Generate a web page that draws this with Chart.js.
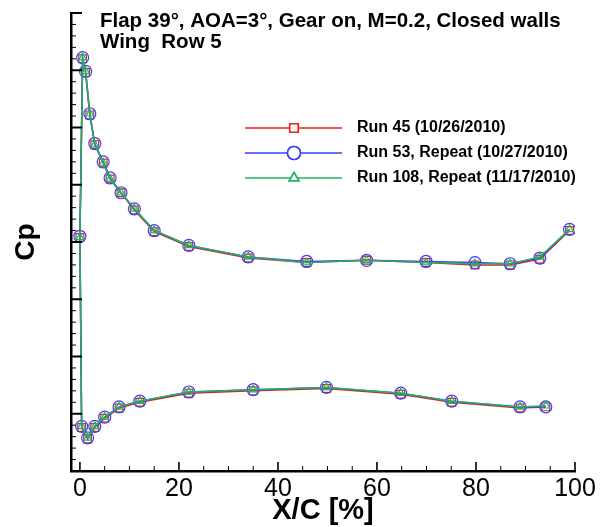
<!DOCTYPE html>
<html>
<head>
<meta charset="utf-8">
<script src="https://cdn.jsdelivr.net/npm/chart.js@4/dist/chart.umd.min.js"></script>
<style>
  body { margin: 0; background: #fff; }
  #wrap { width: 603px; height: 527px; position: relative; }
</style>
</head>
<body>
<div id="wrap"><canvas id="chart"></canvas></div>
<script>
// pressure taps, trailing edge (upper) -> leading edge -> trailing edge (lower)
var xc = [98.9, 92.9, 86.9, 79.8, 69.9, 57.9, 45.8, 34.0, 22.0, 15.0, 11.0, 8.3, 6.1, 4.7, 3.0, 2.0, 1.15, 0.55,
          0,
          0.35, 1.55, 3.0, 5.0, 7.9, 12.1, 22.0, 35.0, 49.8, 64.8, 75.1, 88.9, 94.1];

var cpRun45 = [-1.10, -0.85, -0.80, -0.80, -0.82, -0.84, -0.82, -0.86, -0.96, -1.09, -1.28, -1.43, -1.55, -1.69, -1.85, -2.11, -2.48, -2.60,
               -1.04,
               0.62, 0.72, 0.62, 0.54, 0.45, 0.40, 0.32, 0.30, 0.28, 0.33, 0.40, 0.45, 0.44];
var cpRun53 = [-1.11, -0.86, -0.81, -0.82, -0.83, -0.84, -0.83, -0.87, -0.97, -1.10, -1.29, -1.43, -1.56, -1.70, -1.86, -2.12, -2.49, -2.61,
               -1.05,
               0.61, 0.71, 0.61, 0.53, 0.44, 0.39, 0.31, 0.29, 0.27, 0.32, 0.39, 0.44, 0.44];
var cpRun108 = [-1.11, -0.87, -0.81, -0.81, -0.82, -0.84, -0.82, -0.87, -0.97, -1.10, -1.29, -1.43, -1.55, -1.69, -1.85, -2.12, -2.49, -2.61,
                -1.04,
                0.61, 0.71, 0.61, 0.53, 0.44, 0.39, 0.31, 0.29, 0.27, 0.32, 0.39, 0.44, 0.43];

var runLabels = ["Run 45 (10/26/2010)", "Run 53, Repeat (10/27/2010)", "Run 108, Repeat (11/17/2010)"];
var xTicks = [0, 20, 40, 60, 80, 100];
var titleLines = ["Flap 39\u00B0, AOA=3\u00B0, Gear on, M=0.2, Closed walls", "Wing  Row 5"];

function pts(cp) {
  return xc.map(function(x, i) { return { x: x, y: cp[i] }; });
}

var RED = "#e0231f", BLUE = "#3c3cff", GREEN = "#22b25e";
var FONT = "'Liberation Sans', Arial, sans-serif";

// tecplot style ticks pointing into the plot
var innerTicks = {
  id: "innerTicks",
  afterDraw: function(chart) {
    var ctx = chart.ctx, a = chart.chartArea;
    var sx = chart.scales.x, sy = chart.scales.y;
    ctx.save();
    ctx.strokeStyle = "#000";
    function tick(x1, y1, x2, y2, w) {
      ctx.lineWidth = w;
      ctx.beginPath(); ctx.moveTo(x1, y1); ctx.lineTo(x2, y2); ctx.stroke();
    }
    var xt = sx.ticks.map(function(t) { return t.value; });
    xt.forEach(function(v, i) {
      var px = sx.getPixelForValue(v);
      tick(px, a.bottom, px, a.bottom - 9, 1.6);
      if (i < xt.length - 1) {
        for (var k = 1; k < 4; k++) {
          var m = sx.getPixelForValue(v + (xt[i + 1] - v) * k / 4);
          tick(m, a.bottom, m, a.bottom - 5, 1);
        }
      }
    });
    var yt = sy.ticks.map(function(t) { return t.value; });
    yt.forEach(function(v, i) {
      var py = sy.getPixelForValue(v);
      tick(a.left, py, a.left + 11, py, 2);
      if (i < yt.length - 1) {
        for (var k = 1; k < 5; k++) {
          var m = sy.getPixelForValue(v + (yt[i + 1] - v) * k / 5);
          tick(a.left, m, a.left + 5, m, 1);
        }
      }
    });
    ctx.restore();
  }
};

// heading text and legend box inside the frame
var frameText = {
  id: "frameText",
  afterDraw: function(chart) {
    var ctx = chart.ctx, a = chart.chartArea;
    ctx.save();
    ctx.fillStyle = "#000";
    ctx.textBaseline = "middle";
    ctx.font = "bold 20.5px " + FONT;
    ctx.fillText(titleLines[0], a.left + 29, 21);
    ctx.fillText(titleLines[1], a.left + 29, 42);

    ctx.font = "bold 16px " + FONT;
    var rows = [128, 153, 178];
    chart.data.datasets.forEach(function(ds, i) {
      var y = rows[i];
      ctx.strokeStyle = ds.borderColor;
      ctx.lineWidth = 1.6;
      ctx.beginPath(); ctx.moveTo(a.left + 174, y); ctx.lineTo(a.left + 271, y); ctx.stroke();
      Chart.helpers.drawPoint(ctx, {
        pointStyle: ds.pointStyle,
        radius: ds.legendRadius,
        rotation: 0,
        borderWidth: 1.3
      }, a.left + 223, y);
      ctx.fillStyle = "#fff";
      ctx.strokeStyle = ds.borderColor;
      ctx.fill(); ctx.stroke();
      ctx.fillStyle = "#000";
      ctx.fillText(ds.label, a.left + 286, y);
    });
    ctx.restore();
  }
};

function makeSet(label, cp, color, style, r, legendR, order) {
  return {
    label: label,
    data: pts(cp),
    showLine: true,
    borderColor: color,
    borderWidth: 1.5,
    pointStyle: style,
    pointRadius: r,
    pointBorderWidth: 1.2,
    pointBorderColor: color,
    pointBackgroundColor: "rgba(255,255,255,0)",
    legendRadius: legendR,
    tension: 0,
    order: order
  };
}

var ctx = document.getElementById("chart").getContext("2d");
window.cpChart = new Chart(ctx, {
  type: "scatter",
  data: {
    datasets: [
      makeSet(runLabels[0], cpRun45, RED, "rect", 5.5, 6, 3),
      makeSet(runLabels[1], cpRun53, BLUE, "circle", 6, 6.5, 2),
      makeSet(runLabels[2], cpRun108, GREEN, "triangle", 4.5, 5.5, 1)
    ]
  },
  options: {
    responsive: true,
    maintainAspectRatio: false,
    animation: false,
    layout: { padding: { top: 13, right: 28, left: 0, bottom: 0 } },
    plugins: {
      legend: { display: false },
      tooltip: { enabled: false }
    },
    scales: {
      x: {
        type: "linear",
        min: -1.8,
        max: 100,
        afterBuildTicks: function(scale) {
          scale.ticks = xTicks.map(function(v) { return { value: v }; });
        },
        afterFit: function(scale) { scale.height = 56; },
        grid: { display: false, drawTicks: false },
        border: { display: true, color: "#000", width: 2.5 },
        ticks: {
          color: "#000",
          padding: 3,
          maxRotation: 0,
          font: { family: FONT, size: 25 }
        },
        title: {
          display: true,
          text: "X/C [%]",
          color: "#000",
          padding: { top: 0, bottom: -1 },
          font: { family: FONT, size: 29, weight: "bold" }
        }
      },
      y: {
        type: "linear",
        reverse: true,
        min: -3,
        max: 1,
        ticks: { display: false, stepSize: 0.5 },
        afterFit: function(scale) { scale.width = 71; },
        grid: { display: false, drawTicks: false },
        border: { display: true, color: "#000", width: 2.5 },
        title: {
          display: true,
          text: "Cp",
          color: "#000",
          padding: { top: 9, bottom: 0 },
          font: { family: FONT, size: 28, weight: "bold" }
        }
      }
    }
  },
  plugins: [innerTicks, frameText]
});
</script>
</body>
</html>
